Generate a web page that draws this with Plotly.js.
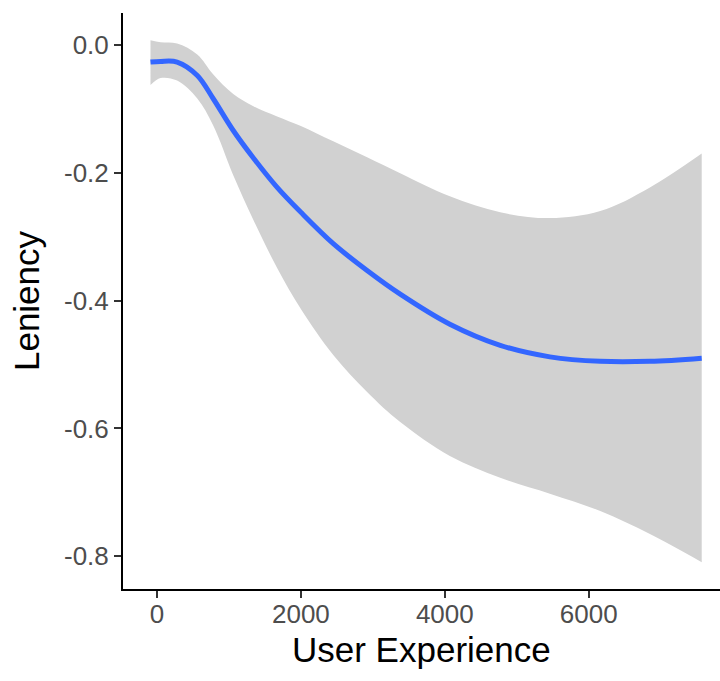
<!DOCTYPE html>
<html>
<head>
<meta charset="utf-8">
<script src="https://cdn.plot.ly/plotly-3.0.1.min.js"></script>
<style>html,body{margin:0;padding:0;background:#fff;}#chart{width:720px;height:681px;}</style>
</head>
<body>
<div id="chart"></div>
<script>
// User Experience (x) sample positions
const experience = [-90, 50, 280, 560, 780, 1060, 1340, 1670, 2000, 2450, 2920, 3380, 4070, 4770, 5460, 6160, 6850, 7570];
// Fitted leniency (smooth line)
const fitLeniency = [-0.027, -0.026, -0.027, -0.048, -0.084, -0.134, -0.177, -0.223, -0.262, -0.311, -0.353, -0.390, -0.437, -0.470, -0.488, -0.495, -0.495, -0.490];
// Confidence band upper bound
const upperBand = [0.007, 0.004, 0.002, -0.015, -0.046, -0.077, -0.096, -0.112, -0.127, -0.151, -0.176, -0.201, -0.237, -0.262, -0.271, -0.260, -0.223, -0.170];
// Confidence band lower bound
const lowerBand = [-0.063, -0.052, -0.056, -0.084, -0.126, -0.204, -0.274, -0.349, -0.413, -0.485, -0.543, -0.590, -0.643, -0.677, -0.702, -0.729, -0.765, -0.809];

const xTicks = [0, 2000, 4000, 6000];
const xTickText = ["0", "2000", "4000", "6000"];
const yTicks = [0, -0.2, -0.4, -0.6, -0.8];
const yTickText = ["0.0", "-0.2", "-0.4", "-0.6", "-0.8"];
const xTitle = "User Experience";
const yTitle = "Leniency";

const bandColor = "rgb(209,209,209)";
const traces = [
  {x: experience, y: lowerBand, type: "scatter", mode: "lines",
   line: {color: "rgba(0,0,0,0)", width: 0, shape: "spline", smoothing: 1},
   hoverinfo: "skip", showlegend: false},
  {x: experience, y: upperBand, type: "scatter", mode: "lines", fill: "tonexty",
   fillcolor: bandColor,
   line: {color: "rgba(0,0,0,0)", width: 0, shape: "spline", smoothing: 1},
   hoverinfo: "skip", showlegend: false},
  {x: experience, y: fitLeniency, type: "scatter", mode: "lines",
   line: {color: "#3366FF", width: 5, shape: "spline", smoothing: 1},
   showlegend: false}
];

const font = "Liberation Sans, Arial, Helvetica, sans-serif";
const layout = {
  width: 720, height: 681,
  margin: {l: 123, r: 0, t: 13, b: 92, pad: 0},
  paper_bgcolor: "#ffffff", plot_bgcolor: "#ffffff",
  font: {family: font},
  showlegend: false,
  xaxis: {
    range: [-472, 7824],
    tickvals: xTicks, ticktext: xTickText,
    showgrid: false, zeroline: false,
    showline: true, linecolor: "#000000", linewidth: 2,
    ticks: "outside", ticklen: 7, tickwidth: 2, tickcolor: "#333333",
    ticklabelstandoff: -6,
    tickfont: {size: 26, color: "#4d4d4d", family: font}
  },
  yaxis: {
    range: [-0.851, 0.0497],
    tickvals: yTicks, ticktext: yTickText,
    showgrid: false, zeroline: false,
    showline: true, linecolor: "#000000", linewidth: 2,
    ticks: "outside", ticklen: 7, tickwidth: 2, tickcolor: "#333333",
    tickfont: {size: 26, color: "#4d4d4d", family: font},
    title: {text: yTitle, font: {size: 35, color: "#000000", family: font}, standoff: 14}
  },
  annotations: [{
    text: xTitle, xref: "paper", yref: "paper", x: 0.5, y: -0.105,
    xanchor: "center", yanchor: "middle", showarrow: false,
    font: {size: 35, color: "#000000", family: font}
  }]
};

Plotly.newPlot("chart", traces, layout, {displayModeBar: false, staticPlot: true});
</script>
</body>
</html>
